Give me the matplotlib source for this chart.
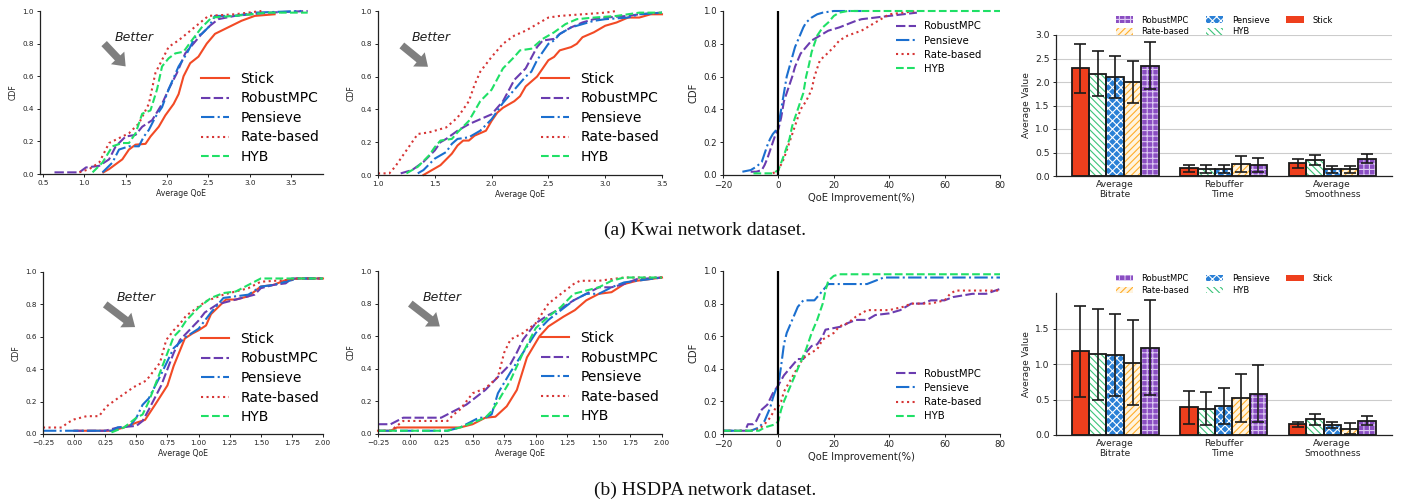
import matplotlib
matplotlib.use("Agg")
import matplotlib.pyplot as plt
import matplotlib.patches as mpatches

W, H = 1401, 501

# ---------------- data ----------------
methods = ["Stick", "RobustMPC", "Pensieve", "Rate-based", "HYB"]

# Kwai - average QoE CDF
k1_stick_x = [1.23, 1.3, 1.38, 1.46, 1.54, 1.62, 1.74, 1.8, 1.9, 1.98, 2.08, 2.14, 2.2, 2.28, 2.38, 2.48, 2.58, 2.74, 2.9, 3.06, 3.3]
k1_stick_y = [0.01, 0.03, 0.06, 0.09, 0.15, 0.18, 0.185, 0.23, 0.29, 0.36, 0.43, 0.49, 0.6, 0.68, 0.72, 0.8, 0.86, 0.9, 0.94, 0.97, 0.98]
k1_mpc_x = [0.64, 0.94, 1.02, 1.18, 1.3, 1.38, 1.5, 1.62, 1.7, 1.82, 1.94, 2.02, 2.12, 2.22, 2.32, 2.42, 2.52, 2.62, 2.82, 3.22, 3.7]
k1_mpc_y = [0.01, 0.01, 0.04, 0.05, 0.09, 0.17, 0.23, 0.24, 0.29, 0.33, 0.43, 0.52, 0.62, 0.74, 0.8, 0.86, 0.91, 0.95, 0.97, 0.99, 1.0]
k1_pen_x = [1.22, 1.34, 1.42, 1.54, 1.66, 1.72, 1.78, 1.86, 1.94, 2.02, 2.14, 2.24, 2.34, 2.42, 2.5, 2.58, 2.82, 3.06, 3.62]
k1_pen_y = [0.01, 0.07, 0.15, 0.17, 0.17, 0.23, 0.27, 0.35, 0.41, 0.52, 0.66, 0.74, 0.84, 0.86, 0.9, 0.97, 0.97, 0.99, 1.0]
k1_rate_x = [0.94, 1.06, 1.18, 1.3, 1.42, 1.54, 1.66, 1.78, 1.86, 1.94, 2.02, 2.14, 2.26, 2.38, 2.5, 2.82, 3.14]
k1_rate_y = [0.01, 0.03, 0.07, 0.19, 0.22, 0.25, 0.31, 0.43, 0.62, 0.7, 0.78, 0.82, 0.87, 0.92, 0.97, 0.98, 1.0]
k1_hyb_x = [1.1, 1.22, 1.34, 1.46, 1.54, 1.62, 1.7, 1.8, 1.88, 1.94, 2.02, 2.1, 2.2, 2.3, 2.42, 2.54, 2.82, 3.22, 3.7]
k1_hyb_y = [0.01, 0.07, 0.17, 0.19, 0.19, 0.25, 0.37, 0.39, 0.52, 0.66, 0.71, 0.74, 0.75, 0.82, 0.9, 0.96, 0.97, 0.99, 0.99]

# Kwai - second average QoE CDF
k2_stick_x = [1.4, 1.5, 1.55, 1.65, 1.7, 1.75, 1.8, 1.85, 1.95, 2.0, 2.05, 2.1, 2.2, 2.25, 2.3, 2.4, 2.45, 2.5, 2.55, 2.6, 2.7, 2.75, 2.8, 2.9, 3.0, 3.1, 3.2, 3.3, 3.4, 3.5]
k2_stick_y = [0.0, 0.04, 0.06, 0.13, 0.18, 0.21, 0.21, 0.24, 0.27, 0.33, 0.38, 0.41, 0.45, 0.48, 0.54, 0.6, 0.65, 0.7, 0.72, 0.76, 0.78, 0.8, 0.84, 0.87, 0.91, 0.93, 0.96, 0.96, 0.98, 0.98]
k2_mpc_x = [1.2, 1.3, 1.4, 1.5, 1.55, 1.6, 1.7, 1.8, 1.9, 2.0, 2.1, 2.2, 2.3, 2.4, 2.45, 2.55, 2.6, 2.7, 2.8, 2.9, 3.0, 3.2, 3.3, 3.5]
k2_mpc_y = [0.01, 0.03, 0.08, 0.15, 0.2, 0.22, 0.27, 0.31, 0.34, 0.37, 0.45, 0.58, 0.65, 0.78, 0.82, 0.83, 0.86, 0.9, 0.93, 0.95, 0.96, 0.97, 0.98, 0.99]
k2_pen_x = [1.35, 1.4, 1.5, 1.6, 1.65, 1.7, 1.8, 1.9, 2.0, 2.1, 2.2, 2.3, 2.35, 2.4, 2.5, 2.55, 2.6, 2.7, 2.8, 2.9, 3.0, 3.2, 3.3, 3.5]
k2_pen_y = [0.01, 0.03, 0.1, 0.14, 0.19, 0.22, 0.23, 0.27, 0.34, 0.44, 0.52, 0.6, 0.63, 0.7, 0.8, 0.82, 0.86, 0.9, 0.92, 0.94, 0.95, 0.96, 0.98, 0.99]
k2_rate_x = [1.0, 1.1, 1.15, 1.2, 1.3, 1.35, 1.45, 1.6, 1.7, 1.8, 1.85, 1.9, 2.0, 2.1, 2.2, 2.3, 2.4, 2.5, 2.6, 2.8, 3.0, 3.1]
k2_rate_y = [0.01, 0.01, 0.05, 0.1, 0.2, 0.25, 0.26, 0.29, 0.35, 0.45, 0.55, 0.63, 0.72, 0.8, 0.85, 0.88, 0.92, 0.96, 0.97, 0.98, 0.99, 1.0]
k2_hyb_x = [1.25, 1.35, 1.45, 1.5, 1.55, 1.65, 1.7, 1.8, 1.9, 2.0, 2.1, 2.2, 2.25, 2.35, 2.45, 2.55, 2.65, 2.75, 2.9, 3.1, 3.3, 3.5]
k2_hyb_y = [0.01, 0.05, 0.12, 0.17, 0.21, 0.22, 0.26, 0.33, 0.45, 0.52, 0.65, 0.72, 0.76, 0.77, 0.83, 0.87, 0.92, 0.95, 0.96, 0.97, 0.99, 0.99]

# Kwai - QoE improvement CDF
k3_mpc_x = [-10, -8, -6, -5, -4, -3, -2, -1, 0, 1, 2, 3, 4, 5, 6, 7, 8, 10, 12, 14, 16, 18, 20, 22, 25, 28, 30, 35, 40, 45, 50]
k3_mpc_y = [0.02, 0.02, 0.03, 0.06, 0.1, 0.15, 0.2, 0.25, 0.28, 0.35, 0.45, 0.5, 0.55, 0.6, 0.66, 0.7, 0.74, 0.78, 0.82, 0.84, 0.86, 0.88, 0.89, 0.9, 0.92, 0.94, 0.95, 0.96, 0.97, 0.98, 0.99]
k3_pen_x = [-13, -10, -8, -6, -5, -4, -3, -2, -1, 0, 1, 2, 3, 4, 5, 6, 7, 8, 9, 10, 12, 14, 16, 20, 30]
k3_pen_y = [0.02, 0.03, 0.05, 0.08, 0.13, 0.18, 0.22, 0.25, 0.27, 0.3, 0.4, 0.5, 0.6, 0.66, 0.72, 0.78, 0.82, 0.86, 0.9, 0.93, 0.96, 0.98, 0.99, 1.0, 1.0]
k3_rate_x = [-2, 0, 2, 3, 4, 5, 6, 7, 8, 10, 12, 13, 14, 15, 17, 20, 22, 25, 30, 35, 38, 40, 45, 50]
k3_rate_y = [0.01, 0.03, 0.1, 0.15, 0.2, 0.25, 0.3, 0.35, 0.4, 0.45, 0.52, 0.6, 0.65, 0.7, 0.73, 0.78, 0.82, 0.85, 0.88, 0.93, 0.96, 0.98, 0.99, 1.0]
k3_hyb_x = [-9, -5, -2, 0, 2, 4, 5, 6, 7, 8, 9, 10, 11, 12, 13, 14, 16, 18, 20, 22, 25, 80]
k3_hyb_y = [0.01, 0.01, 0.01, 0.03, 0.12, 0.22, 0.3, 0.35, 0.4, 0.45, 0.5, 0.6, 0.67, 0.75, 0.8, 0.85, 0.9, 0.93, 0.97, 0.99, 1.0, 1.0]

# HSDPA - average QoE CDF (first)
h1_stick_x = [0.0, 0.3, 0.4, 0.5, 0.57, 0.65, 0.7, 0.75, 0.8, 0.89, 0.95, 1.0, 1.06, 1.1, 1.22, 1.3, 1.4, 1.5, 1.6, 1.7, 1.8, 2.0]
h1_stick_y = [0.02, 0.02, 0.04, 0.07, 0.087, 0.18, 0.24, 0.3, 0.42, 0.59, 0.62, 0.64, 0.67, 0.74, 0.83, 0.83, 0.85, 0.91, 0.92, 0.95, 0.96, 0.96]
h1_mpc_x = [0.0, 0.25, 0.3, 0.35, 0.5, 0.55, 0.6, 0.7, 0.75, 0.8, 0.85, 0.9, 1.0, 1.05, 1.15, 1.25, 1.35, 1.45, 1.5, 1.6, 1.7, 1.75, 2.0]
h1_mpc_y = [0.02, 0.02, 0.03, 0.04, 0.05, 0.08, 0.15, 0.3, 0.4, 0.5, 0.58, 0.62, 0.7, 0.75, 0.8, 0.82, 0.84, 0.86, 0.9, 0.92, 0.93, 0.96, 0.96]
h1_pen_x = [-0.25, 0.3, 0.35, 0.45, 0.5, 0.55, 0.6, 0.7, 0.75, 0.8, 0.9, 1.0, 1.1, 1.2, 1.3, 1.4, 1.5, 1.6, 1.7, 1.8, 2.0]
h1_pen_y = [0.02, 0.02, 0.04, 0.05, 0.1, 0.18, 0.22, 0.37, 0.45, 0.53, 0.6, 0.65, 0.75, 0.84, 0.85, 0.86, 0.91, 0.92, 0.94, 0.96, 0.96]
h1_rate_x = [-0.25, -0.1, -0.05, 0.0, 0.05, 0.1, 0.2, 0.26, 0.35, 0.48, 0.58, 0.69, 0.74, 0.8, 0.85, 0.9, 1.06, 1.2, 1.3, 1.4, 1.5, 1.7, 1.8, 2.0]
h1_rate_y = [0.04, 0.04, 0.07, 0.09, 0.1, 0.11, 0.11, 0.17, 0.22, 0.29, 0.33, 0.44, 0.58, 0.64, 0.68, 0.73, 0.82, 0.86, 0.88, 0.9, 0.94, 0.95, 0.96, 0.96]
h1_hyb_x = [0.3, 0.4, 0.5, 0.55, 0.6, 0.65, 0.7, 0.75, 0.8, 0.85, 0.9, 1.0, 1.1, 1.2, 1.3, 1.4, 1.5, 2.0]
h1_hyb_y = [0.01, 0.04, 0.1, 0.12, 0.2, 0.3, 0.4, 0.5, 0.6, 0.64, 0.7, 0.78, 0.84, 0.87, 0.88, 0.92, 0.96, 0.96]

# HSDPA - average QoE CDF (second)
h2_stick_x = [-0.25, -0.15, -0.1, 0.3, 0.4, 0.45, 0.5, 0.55, 0.6, 0.68, 0.77, 0.85, 0.93, 1.03, 1.1, 1.22, 1.31, 1.4, 1.5, 1.6, 1.7, 1.8, 1.9, 2.0]
h2_stick_y = [0.02, 0.02, 0.04, 0.04, 0.04, 0.05, 0.06, 0.08, 0.1, 0.106, 0.17, 0.27, 0.47, 0.6, 0.66, 0.72, 0.76, 0.82, 0.86, 0.87, 0.92, 0.94, 0.95, 0.96]
h2_mpc_x = [-0.25, -0.15, -0.05, 0.05, 0.25, 0.35, 0.45, 0.55, 0.6, 0.7, 0.8, 0.85, 0.9, 1.0, 1.1, 1.2, 1.3, 1.4, 1.5, 1.6, 1.7, 1.8, 2.0]
h2_mpc_y = [0.06, 0.06, 0.1, 0.1, 0.1, 0.14, 0.18, 0.24, 0.27, 0.35, 0.43, 0.5, 0.58, 0.68, 0.73, 0.77, 0.82, 0.86, 0.9, 0.9, 0.92, 0.95, 0.96]
h2_pen_x = [-0.25, 0.3, 0.4, 0.5, 0.55, 0.6, 0.65, 0.7, 0.8, 0.9, 1.0, 1.1, 1.2, 1.3, 1.4, 1.5, 1.55, 1.6, 1.7, 1.8, 2.0]
h2_pen_y = [0.02, 0.02, 0.04, 0.08, 0.1, 0.1, 0.12, 0.25, 0.38, 0.5, 0.62, 0.7, 0.76, 0.82, 0.86, 0.86, 0.88, 0.9, 0.93, 0.94, 0.96]
h2_rate_x = [-0.25, -0.15, -0.05, 0.3, 0.35, 0.4, 0.5, 0.6, 0.7, 0.75, 0.8, 0.9, 1.0, 1.1, 1.2, 1.3, 1.35, 1.5, 1.6, 1.7, 2.0]
h2_rate_y = [0.02, 0.02, 0.08, 0.08, 0.12, 0.15, 0.25, 0.28, 0.35, 0.5, 0.58, 0.62, 0.68, 0.8, 0.86, 0.92, 0.94, 0.94, 0.95, 0.96, 0.96]
h2_hyb_x = [-0.25, 0.3, 0.4, 0.5, 0.6, 0.65, 0.7, 0.8, 0.9, 1.0, 1.1, 1.2, 1.3, 1.4, 1.5, 1.6, 1.7, 2.0]
h2_hyb_y = [0.02, 0.02, 0.04, 0.07, 0.1, 0.14, 0.2, 0.33, 0.5, 0.65, 0.72, 0.78, 0.86, 0.88, 0.9, 0.94, 0.96, 0.96]

# HSDPA - QoE improvement CDF
h3_mpc_x = [-20, -12, -11, -9, -8, -6, -4, -2, 0, 2, 4, 6, 7, 9, 10, 12, 14, 16, 17, 20, 23, 25, 28, 32, 35, 40, 44, 48, 52, 55, 60, 63, 70, 75, 80]
h3_mpc_y = [0.02, 0.02, 0.06, 0.06, 0.08, 0.15, 0.18, 0.25, 0.3, 0.36, 0.4, 0.44, 0.46, 0.46, 0.5, 0.54, 0.55, 0.6, 0.64, 0.65, 0.66, 0.68, 0.7, 0.7, 0.73, 0.74, 0.76, 0.8, 0.8, 0.82, 0.82, 0.84, 0.86, 0.86, 0.89]
h3_pen_x = [-20, -10, -7, -5, -3, -2, -1, 0, 1, 2, 3, 5, 7, 9, 13, 15, 17, 18, 32, 35, 38, 80]
h3_pen_y = [0.02, 0.02, 0.04, 0.08, 0.16, 0.22, 0.27, 0.3, 0.42, 0.55, 0.62, 0.7, 0.78, 0.82, 0.82, 0.86, 0.9, 0.92, 0.92, 0.94, 0.96, 0.96]
h3_rate_x = [-20, -10, -7, -5, -3, -1, 0, 1, 2, 4, 6, 8, 10, 12, 14, 16, 18, 20, 22, 25, 28, 32, 35, 40, 45, 48, 55, 60, 62, 64, 80]
h3_rate_y = [0.02, 0.02, 0.03, 0.06, 0.1, 0.16, 0.17, 0.2, 0.26, 0.32, 0.38, 0.44, 0.48, 0.5, 0.52, 0.58, 0.6, 0.62, 0.66, 0.68, 0.72, 0.76, 0.76, 0.76, 0.78, 0.8, 0.8, 0.82, 0.86, 0.88, 0.88]
h3_hyb_x = [-20, -7, -5, -3, -1, 0, 1, 2, 4, 6, 8, 10, 12, 14, 16, 17, 18, 20, 22, 80]
h3_hyb_y = [0.02, 0.02, 0.04, 0.05, 0.06, 0.08, 0.15, 0.2, 0.28, 0.36, 0.44, 0.52, 0.62, 0.7, 0.8, 0.88, 0.94, 0.97, 0.98, 0.98]

# bar charts: order of bars Stick, HYB, Pensieve, Rate-based, RobustMPC
bar_groups = ["Average\nBitrate", "Rebuffer\nTime", "Average\nSmoothness"]
bar_order = ["Stick", "HYB", "Pensieve", "Rate-based", "RobustMPC"]
k_bitrate = [2.29, 2.18, 2.11, 2.0, 2.35]
k_bitrate_err = [0.52, 0.48, 0.45, 0.45, 0.5]
k_rebuf = [0.16, 0.15, 0.15, 0.25, 0.24]
k_rebuf_err = [0.08, 0.08, 0.08, 0.17, 0.15]
k_smooth = [0.27, 0.34, 0.14, 0.14, 0.37]
k_smooth_err = [0.09, 0.1, 0.07, 0.07, 0.09]
h_bitrate = [1.18, 1.14, 1.13, 1.02, 1.23]
h_bitrate_err = [0.64, 0.64, 0.58, 0.6, 0.67]
h_rebuf = [0.39, 0.37, 0.41, 0.52, 0.58]
h_rebuf_err = [0.23, 0.23, 0.25, 0.34, 0.4]
h_smooth = [0.15, 0.22, 0.14, 0.09, 0.2]
h_smooth_err = [0.035, 0.075, 0.045, 0.08, 0.065]

# ---------------- styles ----------------
LSTYLE = {
    "Stick": dict(color="#f24a25", ls="-"),
    "RobustMPC": dict(color="#6a3cb0", ls=(0, (4.5, 1.6))),
    "Pensieve": dict(color="#1b6fcf", ls="-."),
    "Rate-based": dict(color="#d63535", ls=":"),
    "HYB": dict(color="#1fe066", ls="--"),
}
BSTYLE = {
    "Stick": dict(face="#ee3f1d", hatch=None, hc="#ee3f1d"),
    "HYB": dict(face="white", hatch="\\\\\\\\\\", hc="#3cc47a"),
    "Pensieve": dict(face="#2a80d6", hatch="xxxx", hc="white"),
    "Rate-based": dict(face="#fff4e0", hatch="/////", hc="#ffad2a"),
    "RobustMPC": dict(face="#8a4ec2", hatch="+++", hc="#dcc8f2"),
}
plt.rcParams["hatch.linewidth"] = 0.8
TXT = "#222222"


def rect(l, t, r, b):
    return [l / W, 1 - b / H, (r - l) / W, (b - t) / H]


fig = plt.figure(figsize=(W / 100, H / 100), dpi=100)


def style_axes(ax, tick_fs, label_fs):
    for s in ["top", "right"]:
        ax.spines[s].set_visible(False)
    for s in ["left", "bottom"]:
        ax.spines[s].set_linewidth(0.9)
        ax.spines[s].set_color("#222222")
    ax.tick_params(labelsize=tick_fs, length=2.5, width=0.7, pad=2,
                   colors="#222222", labelcolor=TXT)


def cdf_panel(pos, series, xlim, xticks, xlabel, tick_fs, label_fs, leg_fs,
              leg_anchor, better=None, vline=False):
    ax = fig.add_axes(rect(*pos))
    for name, xs, ys in series:
        st = LSTYLE[name]
        ax.plot(xs, ys, color=st["color"], ls=st["ls"], lw=1.5, label=name,
                clip_on=False)
    if vline:
        ax.axvline(0, color="black", lw=1.6, zorder=5)
    ax.set_xlim(*xlim)
    ax.set_ylim(0, 1.0)
    ax.set_xticks(xticks)
    ax.set_yticks([0, 0.2, 0.4, 0.6, 0.8, 1.0])
    ax.set_ylabel("CDF", fontsize=label_fs, color=TXT, labelpad=3)
    ax.set_xlabel(xlabel, fontsize=label_fs, color=TXT, labelpad=2)
    style_axes(ax, tick_fs, label_fs)
    ax.legend(loc="center left", bbox_to_anchor=leg_anchor, frameon=False,
              fontsize=leg_fs, borderaxespad=0, labelspacing=0.4,
              handlelength=2.0, handletextpad=0.8)
    if better is not None:
        (tx, ty), (ax0, ay0), (ax1, ay1) = better
        ax.text(tx, ty, "Better", style="italic", fontsize=9, color=TXT,
                ha="center", va="center")
        ax.annotate("", xy=(ax1, ay1), xytext=(ax0, ay0),
                    arrowprops=dict(arrowstyle="simple,head_length=0.7,head_width=1.1,tail_width=0.45",
                                    color="#7f7f7f", lw=0, mutation_scale=12,
                                    shrinkA=0, shrinkB=0))
    return ax


def bar_panel(pos, groups_vals, groups_err, ylim, yticks, leg_y):
    ax = fig.add_axes(rect(*pos))
    width = 0.16
    for i, name in enumerate(bar_order):
        st = BSTYLE[name]
        xs = [g + (i - 2) * width for g in range(3)]
        vals = [groups_vals[g][i] for g in range(3)]
        errs = [groups_err[g][i] for g in range(3)]
        ax.bar(xs, vals, width, color=st["face"], edgecolor=st["hc"],
               hatch=st["hatch"], lw=0, zorder=2)
        ax.bar(xs, vals, width, fill=False, edgecolor="#1a1a1a", lw=1.3,
               zorder=3)
        ax.errorbar(xs, vals, yerr=errs, fmt="none", ecolor="#1a1a1a",
                    elinewidth=1.2, capsize=4, capthick=1.2, zorder=4)
    ax.set_xlim(-0.545, 2.55)
    ax.set_ylim(*ylim)
    ax.set_yticks(yticks)
    ax.set_xticks(range(3))
    ax.set_xticklabels(bar_groups, fontsize=6.6, color=TXT, linespacing=1.15)
    ax.yaxis.grid(True, color="#cccccc", lw=0.8, zorder=0)
    ax.set_axisbelow(True)
    style_axes(ax, 6.6, 6.6)
    ax.tick_params(axis="x", length=0, pad=3)
    ax.set_ylabel("Average Value", fontsize=6.6, color=TXT, labelpad=3)
    order = ["RobustMPC", "Rate-based", "Pensieve", "HYB", "Stick"]
    handles = []
    for name in order:
        st = BSTYLE[name]
        handles.append(mpatches.Patch(facecolor=st["face"], edgecolor=st["hc"],
                                      hatch=st["hatch"], lw=0, label=name))
    ax.legend(handles=handles, ncol=3, loc="center", bbox_to_anchor=(0.5, leg_y),
              frameon=False, fontsize=6, handlelength=2.1, handleheight=0.8,
              handletextpad=1.0, columnspacing=2.0, labelspacing=0.35,
              borderaxespad=0)
    return ax


# ---------- Row 1: Kwai ----------
cdf_panel((40, 11, 323, 174),
          [("Stick", k1_stick_x, k1_stick_y), ("RobustMPC", k1_mpc_x, k1_mpc_y),
           ("Pensieve", k1_pen_x, k1_pen_y), ("Rate-based", k1_rate_x, k1_rate_y),
           ("HYB", k1_hyb_x, k1_hyb_y)],
          (0.465, 3.885), [0.5, 1.0, 1.5, 2.0, 2.5, 3.0, 3.5], "Average QoE",
          5.2, 5.6, 10, (0.551, 0.344),
          better=((1.6, 0.84), (1.24, 0.80), (1.5, 0.66)))
cdf_panel((378, 11, 662, 175),
          [("Stick", k2_stick_x, k2_stick_y), ("RobustMPC", k2_mpc_x, k2_mpc_y),
           ("Pensieve", k2_pen_x, k2_pen_y), ("Rate-based", k2_rate_x, k2_rate_y),
           ("HYB", k2_hyb_x, k2_hyb_y)],
          (1.0, 3.5), [1.0, 1.5, 2.0, 2.5, 3.0, 3.5], "Average QoE",
          5.2, 5.6, 10, (0.556, 0.348),
          better=((1.47, 0.84), (1.21, 0.79), (1.44, 0.66)))
cdf_panel((723, 11, 1000, 175),
          [("RobustMPC", k3_mpc_x, k3_mpc_y), ("Pensieve", k3_pen_x, k3_pen_y),
           ("Rate-based", k3_rate_x, k3_rate_y), ("HYB", k3_hyb_x, k3_hyb_y)],
          (-20, 80), [-20, 0, 20, 40, 60, 80], "QoE Improvement(%)",
          6.2, 7.2, 7.3, (0.61, 0.777), vline=True)
bar_panel((1056, 35, 1392, 176),
          [k_bitrate, k_rebuf, k_smooth], [k_bitrate_err, k_rebuf_err, k_smooth_err],
          (0, 3.0), [0, 0.5, 1.0, 1.5, 2.0, 2.5, 3.0], 1.064)

# ---------- Row 2: HSDPA ----------
cdf_panel((43, 272, 323, 434),
          [("Stick", h1_stick_x, h1_stick_y), ("RobustMPC", h1_mpc_x, h1_mpc_y),
           ("Pensieve", h1_pen_x, h1_pen_y), ("Rate-based", h1_rate_x, h1_rate_y),
           ("HYB", h1_hyb_x, h1_hyb_y)],
          (-0.25, 2.0), [-0.25, 0.0, 0.25, 0.5, 0.75, 1.0, 1.25, 1.5, 1.75, 2.0],
          "Average QoE", 5.2, 5.6, 10, (0.546, 0.346),
          better=((0.5, 0.84), (0.25, 0.80), (0.49, 0.66)))
cdf_panel((378, 271, 662, 434),
          [("Stick", h2_stick_x, h2_stick_y), ("RobustMPC", h2_mpc_x, h2_mpc_y),
           ("Pensieve", h2_pen_x, h2_pen_y), ("Rate-based", h2_rate_x, h2_rate_y),
           ("HYB", h2_hyb_x, h2_hyb_y)],
          (-0.25, 2.0), [-0.25, 0.0, 0.25, 0.5, 0.75, 1.0, 1.25, 1.5, 1.75, 2.0],
          "Average QoE", 5.2, 5.6, 10, (0.556, 0.348),
          better=((0.256, 0.84), (0.006, 0.80), (0.24, 0.66)))
cdf_panel((723, 271, 1000, 434),
          [("RobustMPC", h3_mpc_x, h3_mpc_y), ("Pensieve", h3_pen_x, h3_pen_y),
           ("Rate-based", h3_rate_x, h3_rate_y), ("HYB", h3_hyb_x, h3_hyb_y)],
          (-20, 80), [-20, 0, 20, 40, 60, 80], "QoE Improvement(%)",
          6.2, 7.2, 7.3, (0.61, 0.239), vline=True)
bar_panel((1056, 293, 1392, 435),
          [h_bitrate, h_rebuf, h_smooth], [h_bitrate_err, h_rebuf_err, h_smooth_err],
          (0, 2.0), [0, 0.5, 1.0, 1.5], 1.06)

# ---------- captions ----------
fig.text(705 / W, 1 - 230 / H, "(a) Kwai network dataset.", ha="center",
         va="center", fontsize=14, family="Liberation Serif", color="#111111")
fig.text(705 / W, 1 - 490 / H, "(b) HSDPA network dataset.", ha="center",
         va="center", fontsize=14, family="Liberation Serif", color="#111111")

fig.savefig("out.png", dpi=100)
